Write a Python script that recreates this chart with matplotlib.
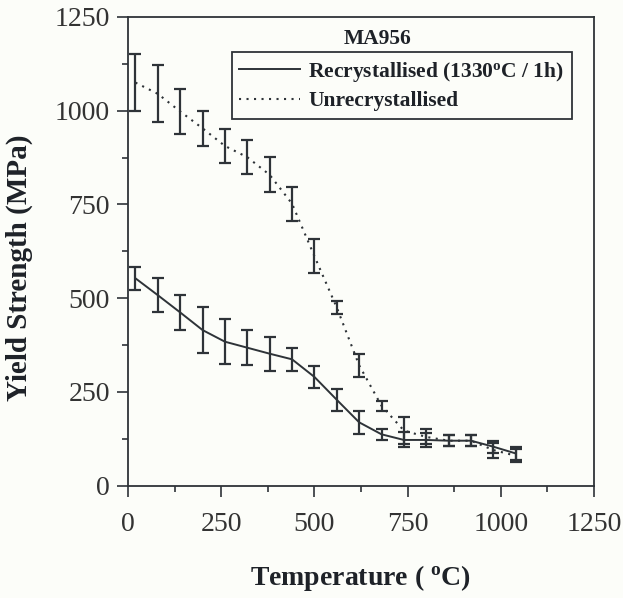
import matplotlib
matplotlib.use("Agg")
from matplotlib import pyplot as plt
from matplotlib.ticker import MultipleLocator
from matplotlib.lines import Line2D

plt.rcParams['font.family'] = ['Liberation Serif', 'DejaVu Serif']
plt.rcParams['mathtext.default'] = 'regular'

# temperatures (deg C)
temp = [20, 80, 140, 200, 260, 320, 380, 440, 500, 560, 620, 680, 740, 800, 860, 920, 980, 1040]

# recrystallised (1330C / 1h)
recr = [553, 508, 462, 415, 384, 368, 352, 337, 290, 229, 169, 137, 122, 122, 120, 120, 104, 86]
recr_err = [31, 46, 47, 62, 60, 46, 45, 30, 30, 30, 30, 14, 20, 18, 14, 14, 16, 18]

# unrecrystallised
unrecr = [1075, 1045, 998, 953, 906, 876, 829, 752, 612, 475, 321, 213, 147, 130, 120, 120, 95, 80]
unrecr_err = [77, 76, 61, 46, 46, 46, 47, 45, 46, 17, 30, 14, 36, 20, 14, 14, 20, 18]

ink = '#2e3338'
bg = '#fcfdf9'
dots = (0, (1, 2.6))

fig = plt.figure(figsize=(6.23, 5.98), dpi=100, facecolor=bg)
ax = fig.add_axes([0.2055, 0.1878, 0.748, 0.7838])
ax.set_facecolor(bg)

ax.errorbar(temp, recr, yerr=recr_err, color=ink, lw=1.4, elinewidth=1.6,
            capsize=4, capthick=1.6)
ax.errorbar(temp, unrecr, yerr=unrecr_err, color=ink, lw=1.5, ls=dots, elinewidth=1.6,
            capsize=4, capthick=1.6)

ax.set_xlim(0, 1250)
ax.set_ylim(0, 1250)
ax.xaxis.set_major_locator(MultipleLocator(250))
ax.xaxis.set_minor_locator(MultipleLocator(125))
ax.yaxis.set_major_locator(MultipleLocator(250))
ax.yaxis.set_minor_locator(MultipleLocator(125))
ax.tick_params(which='major', direction='out', length=8, width=1.2, color=ink,
               labelsize=20, labelcolor='#333')
ax.tick_params(axis='x', which='major', pad=11)
ax.tick_params(axis='y', which='major', pad=5)
ax.tick_params(which='minor', direction='out', length=4, width=1.2, color=ink)
for s in ax.spines.values():
    s.set_color(ink)
    s.set_linewidth(1.3)

ax.set_xlabel('Temperature ( $^{o}$C)', fontsize=20, fontweight='bold', color='#1e2228')
ax.set_ylabel('Yield Strength (MPa)', fontsize=21, fontweight='bold', color='#1e2228')
ax.xaxis.set_label_coords(0.498, -0.165)
ax.yaxis.set_label_coords(-0.204, 0.465)

ax.text(0.536, 0.953, 'MA956', transform=ax.transAxes, ha='center', va='center',
        fontsize=15.5, fontweight='bold', color='#1e2228')
handles = [Line2D([], [], color=ink, lw=1.4),
           Line2D([], [], color=ink, lw=1.5, ls=dots)]
labels = ['Recrystallised (1330$^{o}$C / 1h)', 'Unrecrystallised']
leg = ax.legend(handles, labels, loc='upper left', bbox_to_anchor=(0.2225, 0.925),
                frameon=True, fancybox=False, edgecolor=ink, facecolor=bg, framealpha=1,
                prop={'size': 15.5, 'weight': 'bold'}, handlelength=2.8,
                borderpad=0.35, labelspacing=0.35, handletextpad=0.4, borderaxespad=0)
leg.get_frame().set_linewidth(1.3)
for t in leg.get_texts():
    t.set_color('#1e2228')

fig.savefig('out.png', dpi=100, facecolor=fig.get_facecolor())
